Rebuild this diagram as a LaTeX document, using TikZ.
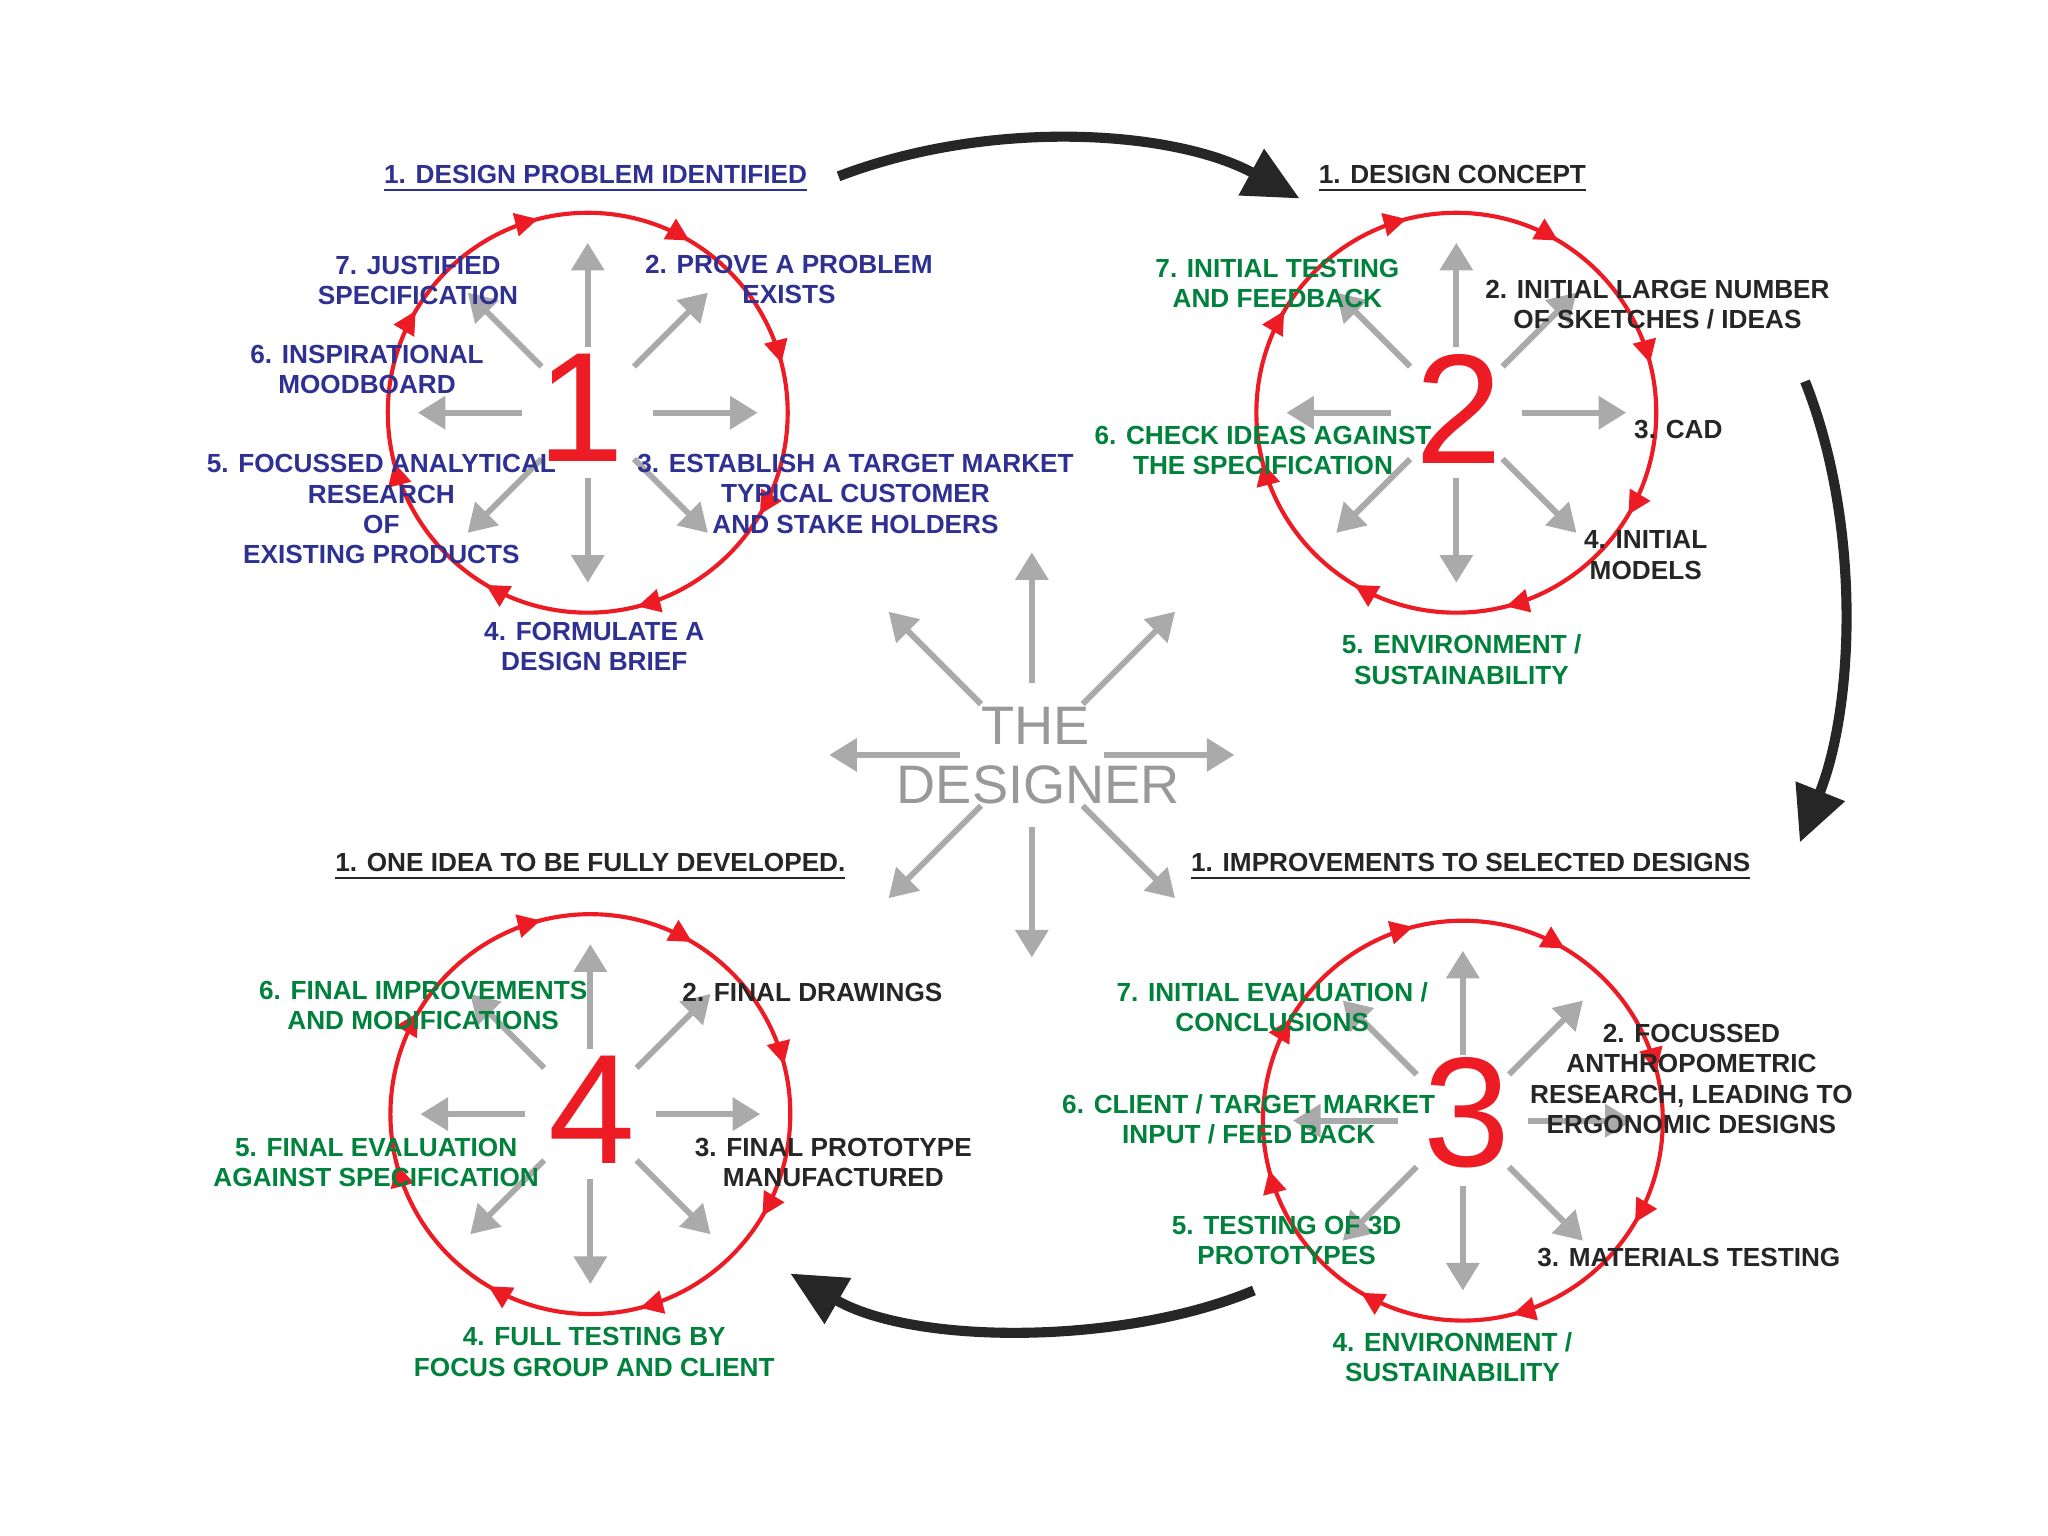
\documentclass[tikz,border=0pt]{standalone}
\usepackage{fontspec}
\setmainfont{Liberation Sans}
\usetikzlibrary{arrows.meta,decorations.markings,calc}
\definecolor{navy}{RGB}{46,49,146}
\definecolor{grn}{RGB}{0,130,60}
\definecolor{rd}{RGB}{237,28,36}
\definecolor{gr}{RGB}{170,170,170}
\tikzset{
 lab/.style={font=\fontsize{5.7}{6.6}\selectfont\bfseries,align=center,inner sep=0pt},
 bl/.style={lab,text=navy}, gn/.style={lab,text=grn}, bk/.style={lab,text=black!85},
 num/.style={font=\fontsize{34}{34}\selectfont,text=rd,inner sep=0pt},
 ray/.style={draw=gr,line width=1.3pt,-{Triangle[length=6pt,width=7pt]}},
 ring/.style={draw=rd,line width=0.9pt,postaction={decorate},decoration={markings,
   mark=between positions 0.04 and 1 step 0.125 with {\arrowreversed{Triangle[length=5pt,width=5pt,fill=rd]}}}},
 big/.style={draw=black!85,line width=2.2pt,-{Triangle[length=12pt,width=11pt]}},
 dz/.style={text=gr!90!black,font=\fontsize{11.8}{12}\selectfont,inner sep=0pt}
}
\newcommand{\rays}[3]{%
 \foreach \a in {0,45,...,315}{\draw[ray] ($(#1)+(\a:#2)$) -- ($(#1)+(\a:#3)$);}}
\begin{document}
\begin{tikzpicture}[x=0.01cm,y=-0.01cm]
\useasboundingbox[fill=white] (0,0) rectangle (1568,1176);
% circles
\coordinate (c1) at (450,316); \coordinate (c2) at (1115,316);
\coordinate (c3) at (1120,858); \coordinate (c4) at (452,853);
\foreach \c in {c1,c2,c3,c4}{\draw[ring] (\c) circle[radius=1.53cm];}
\rays{c1}{0.5cm}{1.3cm}\rays{c2}{0.5cm}{1.3cm}\rays{c3}{0.5cm}{1.3cm}\rays{c4}{0.5cm}{1.3cm}
\node[num] (n1) at (445,312) {1};
\node[num] (n2) at (1117,313) {2};
\node[num] (n3) at (1123,852) {3};
\node[num] (n4) at (453,850) {4};
% designer
\coordinate (d) at (790,578);
\rays{d}{0.55cm}{1.55cm}
\node[dz] (the) at (793,556) {THE};
\node[dz] (des) at (795,601) {DESIGNER};
% big arrows
\coordinate (a1s) at (642,135); \coordinate (a1e) at (995,152);
\draw[big] (a1s) .. controls (760,90) and (900,100) .. (a1e);
\coordinate (a2s) at (1382,292); \coordinate (a2e) at (1378,645);
\draw[big] (a2s) .. controls (1425,400) and (1420,540) .. (a2e);
\coordinate (a3s) at (960,988); \coordinate (a3e) at (605,975);
\draw[big] (a3s) .. controls (860,1030) and (700,1030) .. (a3e);
% circle 1
\node[bl] (t1) at (456,137) {\underline{1. DESIGN PROBLEM IDENTIFIED}};
\node[bl] (l17) at (320,215) {7. JUSTIFIED\\SPECIFICATION};
\node[bl] (l12) at (604,214) {2. PROVE A PROBLEM\\EXISTS};
\node[bl] (l16) at (281,283) {6. INSPIRATIONAL\\MOODBOARD};
\node[bl] (l15) at (292,390) {5. FOCUSSED ANALYTICAL\\RESEARCH\\OF\\EXISTING PRODUCTS};
\node[bl] (l13) at (655,378) {3. ESTABLISH A TARGET MARKET\\TYPICAL CUSTOMER\\AND STAKE HOLDERS};
\node[bl] (l14) at (455,495) {4. FORMULATE A\\DESIGN BRIEF};
% circle 2
\node[bk] (t2) at (1112,137) {\underline{1. DESIGN CONCEPT}};
\node[gn] (l27) at (978,217) {7. INITIAL TESTING\\AND FEEDBACK};
\node[bk] (l22) at (1269,233) {2. INITIAL LARGE NUMBER\\OF SKETCHES / IDEAS};
\node[bk] (l23) at (1285,329) {3. CAD};
\node[gn] (l26) at (967,345) {6. CHECK IDEAS AGAINST\\THE SPECIFICATION};
\node[bk] (l24) at (1260,425) {4. INITIAL\\MODELS};
\node[gn] (l25) at (1119,505) {5. ENVIRONMENT /\\SUSTAINABILITY};
% circle 3
\node[bk] (t3) at (1126,664) {\underline{1. IMPROVEMENTS TO SELECTED DESIGNS}};
\node[gn] (l37) at (974,771) {7. INITIAL EVALUATION /\\CONCLUSIONS};
\node[bk] (l32) at (1295,826) {2. FOCUSSED\\ANTHROPOMETRIC\\RESEARCH, LEADING TO\\ERGONOMIC DESIGNS};
\node[gn] (l36) at (956,857) {6. CLIENT / TARGET MARKET\\INPUT / FEED BACK};
\node[gn] (l35) at (985,950) {5. TESTING OF 3D\\PROTOTYPES};
\node[bk] (l33) at (1293,963) {3. MATERIALS TESTING};
\node[gn] (l34) at (1112,1039) {4. ENVIRONMENT /\\SUSTAINABILITY};
% circle 4
\node[bk] (t4) at (452,664) {\underline{1. ONE IDEA TO BE FULLY DEVELOPED.}};
\node[gn] (l46) at (324,770) {6. FINAL IMPROVEMENTS\\AND MODIFICATIONS};
\node[bk] (l42) at (622,760) {2. FINAL DRAWINGS};
\node[gn] (l45) at (288,890) {5. FINAL EVALUATION\\AGAINST SPECIFICATION};
\node[bk] (l43) at (638,890) {3. FINAL PROTOTYPE\\MANUFACTURED};
\node[gn] (l44) at (455,1035) {4. FULL TESTING BY\\FOCUS GROUP AND CLIENT};
\end{tikzpicture}
\end{document}
